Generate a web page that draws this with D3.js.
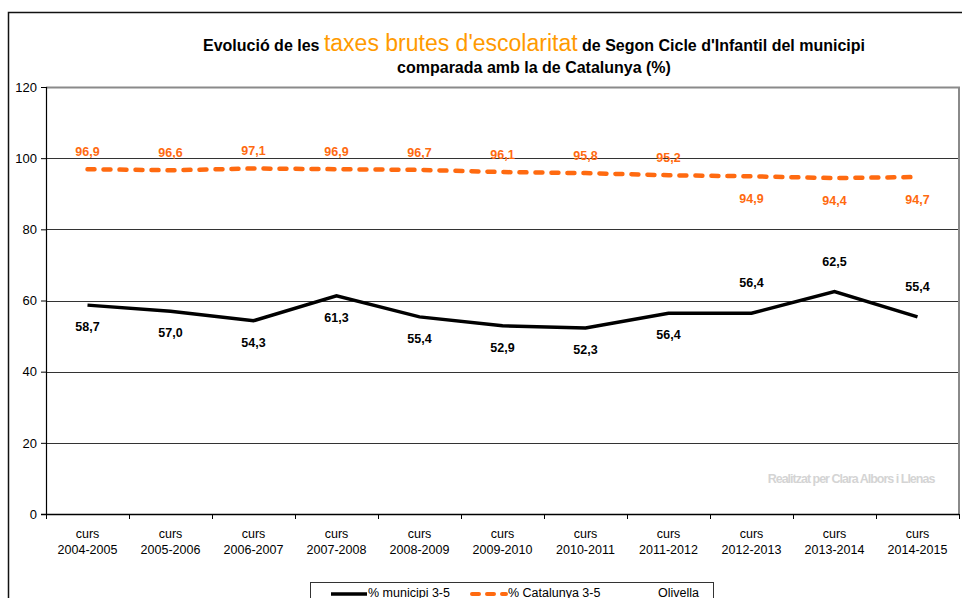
<!DOCTYPE html>
<html><head><meta charset="utf-8">
<script src="https://cdn.jsdelivr.net/npm/d3@7"></script>
<style>body{margin:0;background:#fff}svg{display:block}</style>
</head><body>
<svg id="c" width="962" height="598"></svg>
<script>
const categories = ["2004-2005","2005-2006","2006-2007","2007-2008","2008-2009","2009-2010","2010-2011","2011-2012","2012-2013","2013-2014","2014-2015"];
const municipi = [58.7,57.0,54.3,61.3,55.4,52.9,52.3,56.4,56.4,62.5,55.4];
const catalunya = [96.9,96.6,97.1,96.9,96.7,96.1,95.8,95.2,94.9,94.4,94.7];
const municipiLabelAbove = [false,false,false,false,false,false,false,false,true,true,true];
const catalunyaLabelAbove = [true,true,true,true,true,true,true,true,false,false,false];
const yTicks = [0,20,40,60,80,100,120];

const svg = d3.select("#c");
const L = 46, R = 959, T = 87, B = 514;
const x = d3.scaleBand().domain(categories).range([L, R]);
const y = d3.scaleLinear().domain([0,120]).range([B, T]);
const fmt = v => v.toFixed(1).replace(".", ",");
const font = "Arial, 'Liberation Sans', Helvetica, sans-serif";
const orange = "#ff6a10";

// outer frame
svg.append("path").attr("d", "M8.5,600 V12.5 H962").attr("fill","none").attr("stroke","#111").attr("stroke-width",1.5);

// gridlines
svg.append("g").selectAll("line").data(yTicks.filter(d=>d>0 && d<120)).join("line")
  .attr("x1", L).attr("x2", R).attr("y1", d=>Math.round(y(d))+0.5).attr("y2", d=>Math.round(y(d))+0.5)
  .attr("stroke", "#333").attr("stroke-width", 1);

// plot border top/right
svg.append("path").attr("d", `M${L},${T+0.5} H${R} V${B}`).attr("fill","none").attr("stroke","#8a8a8a").attr("stroke-width",2);

// y axis
const yAxis = d3.axisLeft(y).tickValues(yTicks).tickSize(5).tickPadding(4).tickFormat(d=>d);
const gy = svg.append("g").attr("transform", `translate(${L},0)`).call(yAxis);
gy.select(".domain").attr("stroke","#000").attr("stroke-width",1.2);
gy.selectAll(".tick line").attr("stroke","#000");
gy.selectAll("text").attr("font-family", font).attr("font-size", 13).attr("fill","#000");

// x axis
const gx = svg.append("g").attr("transform", `translate(0,${B})`);
gx.append("line").attr("x1", L-5).attr("x2", R).attr("y1",0.5).attr("y2",0.5).attr("stroke","#000").attr("stroke-width",1.5);
const edges = categories.map(c=>x(c)).concat([R]);
gx.selectAll(".tk").data(edges).join("line").attr("class","tk")
  .attr("x1", d=>Math.round(d)+0.5).attr("x2", d=>Math.round(d)+0.5).attr("y1",0).attr("y2",5)
  .attr("stroke","#000");
const xl = gx.selectAll(".xl").data(categories).join("text").attr("class","xl")
  .attr("x", d=>x(d)+x.bandwidth()/2).attr("text-anchor","middle")
  .attr("font-family", font).attr("font-size", 12.5).attr("fill","#000");
xl.append("tspan").attr("x", d=>x(d)+x.bandwidth()/2).attr("y", 24).text("curs");
xl.append("tspan").attr("x", d=>x(d)+x.bandwidth()/2).attr("y", 40).text(d=>d);

// watermark
svg.append("text").attr("x", 851).attr("y", 483).attr("text-anchor","middle")
  .attr("font-family", "'Liberation Sans Narrow', 'Arial Narrow', Arial, sans-serif").attr("font-size", 12.5)
  .attr("fill","#d4d4d4").attr("letter-spacing", -1).attr("font-weight","bold").text("Realitzat per Clara Albors i Llenas");

const cx = (d,i) => x(categories[i]) + x.bandwidth()/2;

// lines
const line = d3.line().x((d,i)=>cx(d,i)).y(d=>y(d));
svg.append("path").datum(catalunya).attr("d", line).attr("fill","none")
  .attr("stroke", orange).attr("stroke-width", 4.5).attr("stroke-linecap","round")
  .attr("stroke-dasharray","7,9");
svg.append("path").datum(municipi).attr("d", line).attr("fill","none")
  .attr("stroke", "#000").attr("stroke-width", 3.5).attr("stroke-linejoin","miter");

// labels
svg.append("g").selectAll("text").data(catalunya).join("text")
  .attr("x", (d,i)=>cx(d,i)).attr("y", (d,i)=>y(d) + (catalunyaLabelAbove[i] ? -13 : 27))
  .attr("text-anchor","middle").attr("font-family", font).attr("font-weight","bold").attr("font-size", 12.5)
  .attr("fill", orange).text(fmt);
svg.append("g").selectAll("text").data(municipi).join("text")
  .attr("x", (d,i)=>cx(d,i)).attr("y", (d,i)=>y(d) + (municipiLabelAbove[i] ? -26 : 26))
  .attr("text-anchor","middle").attr("font-family", font).attr("font-weight","bold").attr("font-size", 12.5)
  .attr("fill", "#000").text(fmt);

// title
const t1 = svg.append("text").attr("x", 534).attr("y", 51).attr("text-anchor","middle")
  .attr("font-family", font).attr("font-size", 16).attr("font-weight","bold").attr("fill","#000");
t1.append("tspan").text("Evolució de les ");
t1.append("tspan").attr("font-size", 23).attr("font-weight","normal").attr("fill","#ff9a00").text("taxes brutes d'escolaritat");
t1.append("tspan").text(" de Segon Cicle d'Infantil del municipi");
svg.append("text").attr("x", 534).attr("y", 73).attr("text-anchor","middle")
  .attr("font-family", font).attr("font-size", 16).attr("font-weight","bold").attr("fill","#000")
  .text("comparada amb la de Catalunya (%)");

// legend
const lg = svg.append("g");
lg.append("rect").attr("x", 310.5).attr("y", 582.5).attr("width", 403).attr("height", 30)
  .attr("fill","#fff").attr("stroke","#333").attr("stroke-width",1);
lg.append("line").attr("x1", 331).attr("x2", 367).attr("y1", 594).attr("y2", 594).attr("stroke","#000").attr("stroke-width",3.5);
lg.append("text").attr("x", 368).attr("y", 597).attr("font-family", font).attr("font-size", 12.5).text("% municipi 3-5");
lg.append("line").attr("x1", 472).attr("x2", 506).attr("y1", 594).attr("y2", 594).attr("stroke",orange).attr("stroke-width",4)
  .attr("stroke-linecap","round").attr("stroke-dasharray","7,8");
lg.append("text").attr("x", 508).attr("y", 597).attr("font-family", font).attr("font-size", 12.5).text("% Catalunya 3-5");
lg.append("text").attr("x", 658).attr("y", 597).attr("font-family", font).attr("font-size", 12.5).text("Olivella");
</script>
</body></html>
